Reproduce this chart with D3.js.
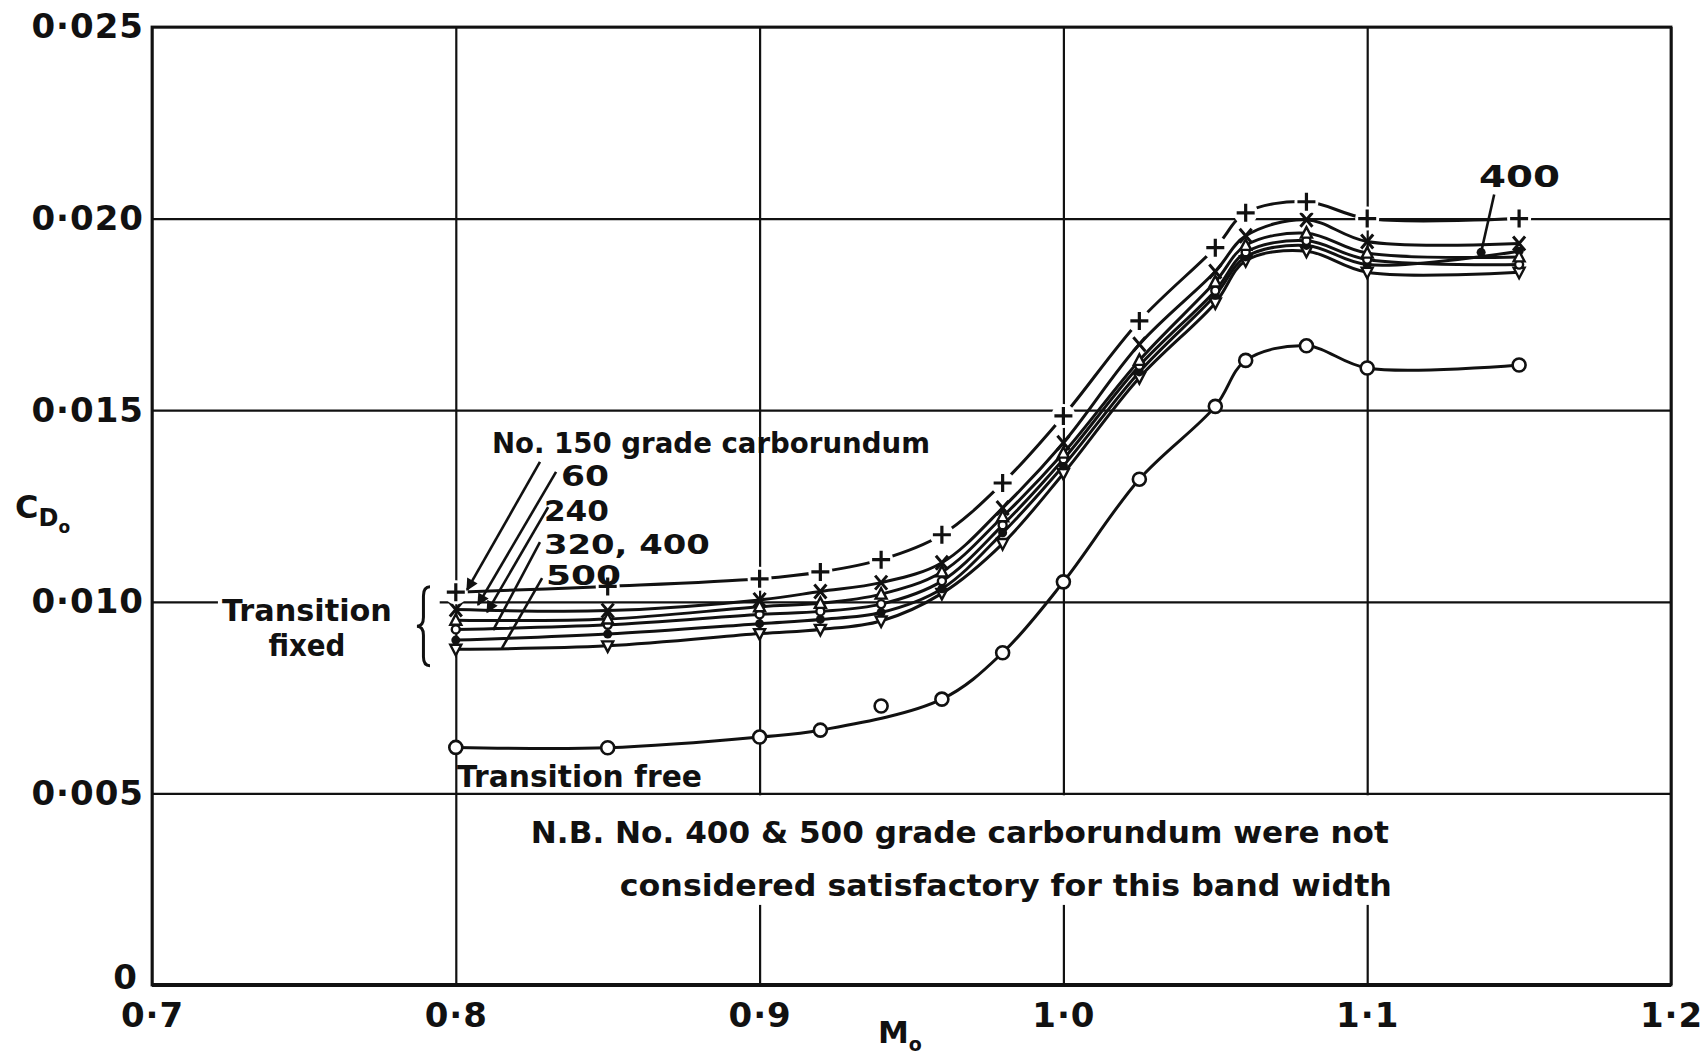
<!DOCTYPE html>
<html><head><meta charset="utf-8">
<script src="https://cdn.jsdelivr.net/npm/d3@7"></script>
<style>
html,body{margin:0;padding:0;background:#fff;}
svg{display:block;}
text{font-family:"DejaVu Sans",sans-serif;font-weight:bold;fill:#111;}
</style></head><body>
<svg id="chart" width="1706" height="1061"></svg>
<script>
// ---------------- data ----------------
const machs = [0.80, 0.85, 0.90, 0.92, 0.94, 0.96, 0.98, 1.00, 1.025, 1.05, 1.06, 1.08, 1.10, 1.15];
const cd150 = [0.01025, 0.01040, 0.01060, 0.01078, 0.01110, 0.01175, 0.01310, 0.01485, 0.01733, 0.01924, 0.02015, 0.02044, 0.02000, 0.02000];
const cd60  = [0.00980, 0.00977, 0.01005, 0.01027, 0.01050, 0.01102, 0.01245, 0.01415, 0.01672, 0.01862, 0.01955, 0.01997, 0.01940, 0.01935];
const cd240 = [0.00952, 0.00955, 0.00987, 0.00996, 0.01020, 0.01078, 0.01222, 0.01388, 0.01630, 0.01835, 0.01930, 0.01962, 0.01910, 0.01900];
const cd320 = [0.00928, 0.00940, 0.00967, 0.00975, 0.00994, 0.01054, 0.01200, 0.01372, 0.01616, 0.01812, 0.01912, 0.01942, 0.01893, 0.01880];
const cd400 = [0.00900, 0.00916, 0.00943, 0.00954, 0.00972, 0.01034, 0.01180, 0.01355, 0.01600, 0.01800, 0.01900, 0.01930, 0.01880, 0.01915];
const cd500 = [0.00876, 0.00885, 0.00917, 0.00928, 0.00950, 0.01022, 0.01152, 0.01335, 0.01585, 0.01780, 0.01890, 0.01915, 0.01860, 0.01860];
const cdFree = [0.00620, 0.00619, 0.00647, 0.00665, 0.00728, 0.00746, 0.00867, 0.01052, 0.01320, 0.01510, 0.01630, 0.01668, 0.01610, 0.01618];
// points the faired "transition free" curve passes through (the 0.94 point lies off the fairing)
const freeOnCurve = [1, 1, 1, 1, 0, 1, 1, 1, 1, 1, 1, 1, 1, 1];

const xTicks = [0.7, 0.8, 0.9, 1.0, 1.1, 1.2];
const xTickLabels = ["0·7", "0·8", "0·9", "1·0", "1·1", "1·2"];
const yTicks = [0, 0.005, 0.010, 0.015, 0.020, 0.025];
const yTickLabels = ["0", "0·005", "0·010", "0·015", "0·020", "0·025"];

const seriesNames = ["150", "60", "240", "320", "400", "500", "free"];
const seriesValues = [cd150, cd60, cd240, cd320, cd400, cd500, cdFree];
const seriesMarkers = ["plus", "cross", "tri", "ring", "dot", "triDown", "bigRing"];

// annotation texts (data coords: [mach, cd])
const gradeLabels = ["No. 150 grade carborundum", "60", "240", "320, 400", "500"];
const gradeLabelPos = [[0.8119, 0.01388], [0.8346, 0.01302], [0.8290, 0.01211], [0.8290, 0.01124], [0.8297, 0.01045]];
const gradeLabelWidth = [438, 48, 65, 166, 75];
const gradeLabelSize = [29, 28, 28, 26, 26];
const leaderFrom = [[0.8277, 0.01365], [0.8330, 0.01339], [0.8304, 0.01247], [0.8277, 0.01156], [0.8284, 0.01062]];
const leaderTo = [[0.8037, 0.01031], [0.8073, 0.00992], [0.8103, 0.00973], [0.8123, 0.00926], [0.8152, 0.00879]];
const leaderArrow = [true, true, true, false, false];

// ---------------- layout ----------------
const svg = d3.select("#chart");
const L = 152, R = 1671, T = 27, B = 985;
const x = d3.scaleLinear().domain([0.7, 1.2]).range([L, R]);
const y = d3.scaleLinear().domain([0, 0.025]).range([B, T]);

svg.append("rect").attr("width", 1706).attr("height", 1061).attr("fill", "#fff");

const defs = svg.append("defs");
defs.append("marker").attr("id", "arrow").attr("viewBox", "0 0 10 10")
  .attr("refX", 9).attr("refY", 5).attr("markerWidth", 14).attr("markerHeight", 12)
  .attr("markerUnits", "userSpaceOnUse").attr("orient", "auto")
  .append("path").attr("d", "M0,0 L10,5 L0,10 Z").attr("fill", "#111");

// grid via axes
const gx = svg.append("g").attr("transform", `translate(0,${B})`)
  .call(d3.axisBottom(x).tickValues(xTicks).tickSize(-(B - T)).tickPadding(18)
    .tickFormat((d, i) => xTickLabels[i]));
const gy = svg.append("g").attr("transform", `translate(${L},0)`)
  .call(d3.axisLeft(y).tickValues(yTicks).tickSize(-(R - L)).tickPadding(8)
    .tickFormat((d, i) => yTickLabels[i]));
[gx, gy].forEach(g => {
  g.select(".domain").remove();
  g.selectAll(".tick line").attr("stroke", "#111").attr("stroke-width", 2.2);
  g.selectAll(".tick text").attr("fill", "#111").style("font-size", "34px")
    .style("font-family", '"DejaVu Sans",sans-serif').style("font-weight", "bold")
    .style("letter-spacing", "1px");
});
gy.selectAll(".tick text").filter(d => d === 0).attr("dy", "0.1em").attr("x", -14);
// frame
svg.append("rect").attr("x", L).attr("y", T).attr("width", R - L).attr("height", B - T)
  .attr("fill", "none").attr("stroke", "#111").attr("stroke-width", 2.8);
svg.append("line").attr("x1", L).attr("x2", R).attr("y1", B).attr("y2", B)
  .attr("stroke", "#111").attr("stroke-width", 4);

// white boxes behind lettering (interrupt the grid)
function whiteBox(x0, y0, x1, y1) {
  svg.append("rect").attr("x", x(x0)).attr("y", y(y1))
    .attr("width", x(x1) - x(x0)).attr("height", y(y0) - y(y1)).attr("fill", "#fff");
}
whiteBox(0.7217, 0.00830, 0.7947, 0.01045);   // Transition fixed
whiteBox(0.8106, 0.01340, 0.8590, 0.01490);   // No.150 label
whiteBox(0.8235, 0.00209, 1.1105, 0.00495);   // N.B. note

// ---------------- curves ----------------
const line = d3.line().x(d => x(d[0])).y(d => y(d[1])).curve(d3.curveCatmullRom.alpha(0.5));
const seriesData = seriesValues.map(vals => machs.map((m, i) => [m, vals[i]]));
const curveData = seriesData.map((pts, si) =>
  seriesNames[si] === "free" ? pts.filter((p, i) => freeOnCurve[i]) : pts);
svg.append("g").selectAll("path").data(curveData).join("path")
  .attr("d", d => line(d)).attr("fill", "none").attr("stroke", "#111")
  .attr("stroke-width", 3).attr("stroke-linejoin", "round");

// ---------------- markers ----------------
function drawMarker(g, type, px, py) {
  const s = g.append("g").attr("transform", `translate(${px},${py})`);
  if (type === "plus") {
    s.append("circle").attr("r", 12).attr("fill", "#fff");
    s.append("path").attr("d", "M-9,0H9M0,-9V9").attr("stroke", "#111").attr("stroke-width", 3.2);
  } else if (type === "cross") {
    s.append("path").attr("d", "M-6,-7L6,7M6,-7L-6,7").attr("stroke", "#111").attr("stroke-width", 3);
  } else if (type === "tri") {
    s.append("path").attr("d", "M0,-6L5.5,4.5L-5.5,4.5Z").attr("fill", "#fff").attr("stroke", "#111").attr("stroke-width", 2.4);
  } else if (type === "triDown") {
    s.append("path").attr("d", "M0,6L5.5,-4.5L-5.5,-4.5Z").attr("fill", "#fff").attr("stroke", "#111").attr("stroke-width", 2.4);
  } else if (type === "ring") {
    s.append("circle").attr("r", 4).attr("fill", "#fff").attr("stroke", "#111").attr("stroke-width", 2.4);
  } else if (type === "dot") {
    s.append("circle").attr("r", 4.5).attr("fill", "#111");
  } else if (type === "bigRing") {
    s.append("circle").attr("r", 6.5).attr("fill", "#fff").attr("stroke", "#111").attr("stroke-width", 2.6);
  }
}
const mg = svg.append("g");
[5, 4, 3, 2, 1, 0, 6].forEach(si => {
  seriesData[si].forEach(d => drawMarker(mg, seriesMarkers[si], x(d[0]), y(d[1])));
});

// ---------------- annotations ----------------
function label(txt, pos, size, width, anchor) {
  const t = svg.append("text").attr("x", x(pos[0])).attr("y", y(pos[1]))
    .style("font-size", size + "px").attr("text-anchor", anchor || "start").text(txt);
  if (width) t.attr("textLength", width).attr("lengthAdjust", "spacingAndGlyphs");
  return t;
}
gradeLabels.forEach((t, i) => label(t, gradeLabelPos[i], gradeLabelSize[i], gradeLabelWidth[i]));
leaderFrom.forEach((f, i) => {
  const l = svg.append("line").attr("x1", x(f[0])).attr("y1", y(f[1]))
    .attr("x2", x(leaderTo[i][0])).attr("y2", y(leaderTo[i][1]))
    .attr("stroke", "#111").attr("stroke-width", 2.6);
  if (leaderArrow[i]) l.attr("marker-end", "url(#arrow)");
});

// 400 label top-right
label("400", [1.1368, 0.02083], 31, 81);
svg.append("line").attr("x1", x(1.1418)).attr("y1", y(0.02063))
  .attr("x2", x(1.1375)).attr("y2", y(0.01912)).attr("stroke", "#111").attr("stroke-width", 2.6);
drawMarker(svg, "dot", x(1.1375), y(0.01912));

// Transition fixed + brace
label("Transition", [0.7510, 0.00950], 30, 170, "middle");
label("fixed", [0.7510, 0.00858], 30, 77, "middle");
{
  const xL = x(0.7872), xR = x(0.7915), xM = (xL + xR) / 2;
  const yT = y(0.01039), yB = y(0.00833), yM = (yT + yB) / 2, r = 9;
  const p = d3.path();
  p.moveTo(xR, yT);
  p.quadraticCurveTo(xM, yT, xM, yT + r);
  p.lineTo(xM, yM - r);
  p.quadraticCurveTo(xM, yM, xL, yM);
  p.quadraticCurveTo(xM, yM, xM, yM + r);
  p.lineTo(xM, yB - r);
  p.quadraticCurveTo(xM, yB, xR, yB);
  svg.append("path").attr("d", p.toString()).attr("fill", "none")
    .attr("stroke", "#111").attr("stroke-width", 3);
}

label("Transition free", [0.8004, 0.00517], 30, 245);
label("N.B.  No. 400 & 500 grade carborundum  were not", [0.8247, 0.00370], 30, 858);
label("considered satisfactory for this  band width", [0.8540, 0.00233], 30, 772);

// axis titles
{
  const t = svg.append("text").attr("x", 878).attr("y", 1043).style("font-size", "31px");
  t.append("tspan").text("M");
  t.append("tspan").attr("dy", 8).style("font-size", "19px").text("o");
}
{
  const t = svg.append("text").attr("x", 15).attr("y", 518).style("font-size", "32px");
  t.append("tspan").text("C");
  t.append("tspan").attr("dy", 8).style("font-size", "24px").text("D");
  t.append("tspan").attr("dy", 7).style("font-size", "17px").text("o");
}
</script>
</body></html>
